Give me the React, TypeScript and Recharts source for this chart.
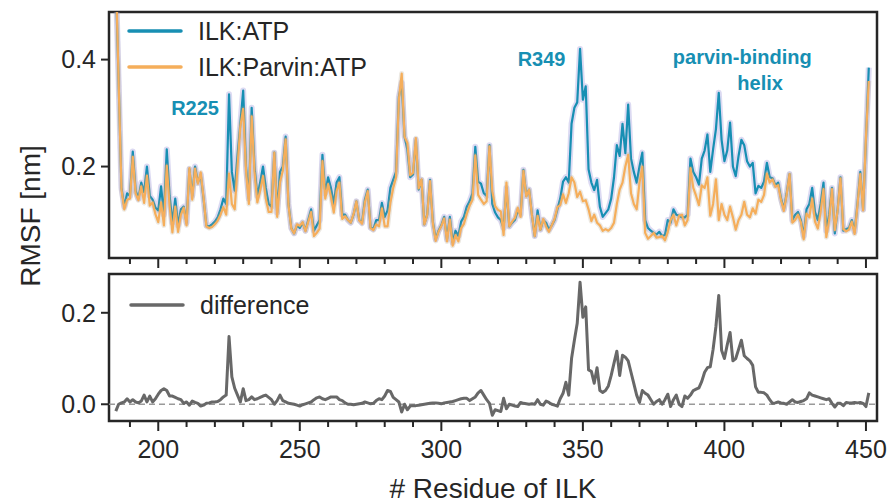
import {
  Legend,
  Line,
  LineChart,
  ReferenceArea,
  ReferenceDot,
  ReferenceLine,
  XAxis,
  YAxis,
} from "recharts";

// residues 185..451, one value per residue
const firstResidue = 185;

const atpRmsf = [
  0.55, 0.36, 0.16, 0.125, 0.15, 0.145, 0.228, 0.155, 0.14, 0.17,
  0.152, 0.2, 0.145, 0.138, 0.123, 0.118, 0.163, 0.11, 0.232, 0.145,
  0.095, 0.14, 0.09, 0.12, 0.125, 0.095, 0.195, 0.145, 0.2, 0.17,
  0.185, 0.14, 0.09, 0.088, 0.092, 0.097, 0.105, 0.12, 0.14, 0.13,
  0.335, 0.19, 0.155, 0.22, 0.28, 0.342, 0.2, 0.14, 0.31, 0.2,
  0.145, 0.17, 0.2, 0.16, 0.13, 0.125, 0.226, 0.114, 0.19, 0.2,
  0.256, 0.13, 0.085, 0.075, 0.09, 0.085, 0.095, 0.08, 0.1, 0.12,
  0.08, 0.09, 0.1, 0.222, 0.15, 0.18, 0.16, 0.13, 0.17, 0.18,
  0.11, 0.11, 0.1, 0.095, 0.11, 0.135, 0.1, 0.095, 0.138, 0.157,
  0.086, 0.083, 0.1, 0.1, 0.132, 0.106, 0.118, 0.16, 0.175, 0.19,
  0.33, 0.357, 0.256, 0.232, 0.18, 0.185, 0.25, 0.157, 0.175, 0.092,
  0.11, 0.175, 0.097, 0.064, 0.08, 0.09, 0.106, 0.064, 0.106, 0.058,
  0.08, 0.07, 0.097, 0.106, 0.125, 0.135, 0.15, 0.237, 0.172, 0.168,
  0.15, 0.145, 0.24, 0.13, 0.114, 0.105, 0.1, 0.085, 0.16, 0.088,
  0.095, 0.1, 0.118, 0.11, 0.194, 0.145, 0.157, 0.11, 0.07, 0.118,
  0.082, 0.1, 0.095, 0.082, 0.09, 0.1, 0.12, 0.14, 0.172, 0.18,
  0.17, 0.28, 0.31, 0.32, 0.42, 0.325, 0.35, 0.195, 0.17, 0.156,
  0.175, 0.125, 0.106, 0.113, 0.12, 0.14, 0.18, 0.24, 0.22, 0.28,
  0.225, 0.316, 0.215, 0.19, 0.17, 0.2, 0.226, 0.1, 0.085, 0.08,
  0.076, 0.073, 0.078, 0.07, 0.072, 0.1, 0.095, 0.12, 0.11, 0.108,
  0.105, 0.105, 0.11, 0.215, 0.19, 0.18, 0.166, 0.215, 0.23, 0.26,
  0.19, 0.232, 0.27, 0.338, 0.25, 0.21, 0.23, 0.282, 0.2, 0.182,
  0.22, 0.25, 0.24, 0.21, 0.2, 0.207, 0.15, 0.164, 0.16, 0.172,
  0.207, 0.18, 0.178, 0.165, 0.17, 0.14, 0.12, 0.15, 0.186, 0.1,
  0.11, 0.115, 0.1, 0.07, 0.12, 0.13, 0.16, 0.115, 0.1, 0.13,
  0.17, 0.08, 0.11, 0.16, 0.075, 0.12, 0.18, 0.08, 0.083, 0.085,
  0.1, 0.078, 0.13, 0.19, 0.12, 0.25, 0.385,
];

const parvinRmsf = [
  0.565, 0.36, 0.157, 0.12, 0.138, 0.14, 0.218, 0.15, 0.137, 0.163,
  0.132, 0.183, 0.127, 0.133, 0.111, 0.096, 0.133, 0.09, 0.202, 0.127,
  0.077, 0.125, 0.078, 0.11, 0.123, 0.09, 0.197, 0.138, 0.196, 0.168,
  0.189, 0.142, 0.088, 0.085, 0.087, 0.092, 0.099, 0.11, 0.124, 0.11,
  0.187, 0.13, 0.12, 0.2, 0.275, 0.308, 0.192, 0.13, 0.294, 0.19,
  0.133, 0.155, 0.182, 0.14, 0.115, 0.115, 0.226, 0.106, 0.17, 0.192,
  0.251, 0.128, 0.084, 0.075, 0.092, 0.089, 0.096, 0.079, 0.097, 0.115,
  0.07, 0.076, 0.084, 0.21, 0.14, 0.167, 0.144, 0.114, 0.154, 0.17,
  0.102, 0.107, 0.1, 0.095, 0.111, 0.135, 0.099, 0.093, 0.133, 0.154,
  0.085, 0.081, 0.092, 0.088, 0.122, 0.088, 0.088, 0.132, 0.16, 0.18,
  0.325, 0.374, 0.256, 0.244, 0.184, 0.188, 0.253, 0.159, 0.176, 0.092,
  0.109, 0.173, 0.094, 0.061, 0.078, 0.089, 0.103, 0.06, 0.101, 0.052,
  0.072, 0.06, 0.085, 0.093, 0.112, 0.127, 0.138, 0.221, 0.147, 0.138,
  0.13, 0.135, 0.238, 0.154, 0.126, 0.119, 0.116, 0.072, 0.17, 0.088,
  0.097, 0.104, 0.123, 0.106, 0.192, 0.144, 0.157, 0.109, 0.07, 0.108,
  0.082, 0.102, 0.088, 0.078, 0.09, 0.102, 0.124, 0.128, 0.148, 0.132,
  0.15, 0.18, 0.17, 0.143, 0.153, 0.135, 0.137, 0.12, 0.098, 0.11,
  0.095, 0.09, 0.08, 0.083, 0.08, 0.085, 0.095, 0.13, 0.157, 0.17,
  0.2, 0.222, 0.15, 0.13, 0.12, 0.17, 0.2, 0.076, 0.065, 0.07,
  0.076, 0.067, 0.068, 0.07, 0.062, 0.078, 0.1, 0.11, 0.09, 0.108,
  0.11, 0.09, 0.1, 0.197, 0.16, 0.145, 0.128, 0.165, 0.16, 0.18,
  0.108, 0.13, 0.176, 0.1, 0.13, 0.11, 0.1, 0.125, 0.105, 0.082,
  0.1, 0.11, 0.134, 0.11, 0.105, 0.122, 0.112, 0.138, 0.134, 0.147,
  0.187, 0.17, 0.176, 0.162, 0.165, 0.137, 0.117, 0.148, 0.186, 0.095,
  0.1, 0.11, 0.096, 0.064, 0.112, 0.105, 0.14, 0.097, 0.084, 0.116,
  0.158, 0.068, 0.1, 0.158, 0.081, 0.118, 0.178, 0.083, 0.079, 0.082,
  0.097, 0.074, 0.127, 0.186, 0.118, 0.255, 0.36,
];

const rmsfDifference = [
  -0.015, 0.0, 0.003, 0.005, 0.012, 0.005, 0.01, 0.005, 0.003, 0.007,
  0.02, 0.005, 0.018, 0.005, 0.012, 0.022, 0.03, 0.034, 0.03, 0.018,
  0.018, 0.015, 0.012, 0.01, 0.002, 0.005, -0.002, 0.007, 0.004, 0.002,
  -0.004, -0.002, 0.002, 0.003, 0.005, 0.005, 0.006, 0.01, 0.016, 0.02,
  0.148, 0.06, 0.035, 0.02, 0.005, 0.034, 0.008, 0.01, 0.016, 0.01,
  0.012, 0.015, 0.018, 0.02, 0.015, 0.01, 0.0, 0.008, 0.02, 0.008,
  0.005, 0.002, 0.001, 0.0, -0.002, -0.004, -0.001, 0.001, 0.003, 0.005,
  0.01, 0.014, 0.016, 0.012, 0.01, 0.013, 0.016, 0.016, 0.016, 0.01,
  0.008, 0.003, 0.0, 0.0, -0.001, 0.0, 0.001, 0.002, 0.005, 0.003,
  0.001, 0.002, 0.008, 0.012, 0.01, 0.018, 0.03, 0.028, 0.015, 0.01,
  0.005, -0.017, 0.0, -0.012, -0.004, -0.003, -0.003, -0.002, -0.001, 0.0,
  0.001, 0.002, 0.003, 0.003, 0.002, 0.001, 0.003, 0.004, 0.005, 0.006,
  0.008, 0.01, 0.012, 0.013, 0.013, 0.008, 0.012, 0.016, 0.025, 0.03,
  0.02, 0.01, 0.002, -0.024, -0.012, -0.014, -0.016, 0.013, -0.01, 0.0,
  -0.002, -0.004, -0.005, 0.004, 0.002, 0.001, 0.0, 0.001, 0.0, 0.01,
  0.0, -0.002, 0.007, 0.004, 0.0, -0.002, -0.004, 0.012, 0.024, 0.048,
  0.02, 0.1, 0.14, 0.177, 0.267, 0.19, 0.213, 0.075, 0.072, 0.046,
  0.08, 0.03, 0.026, 0.03, 0.04, 0.063, 0.09, 0.116, 0.063, 0.107,
  0.103, 0.095, 0.07, 0.045, 0.02, 0.004, 0.03, 0.024, 0.02, 0.01,
  0.0, 0.006, 0.01, 0.0, 0.01, 0.022, -0.005, 0.01, 0.02, 0.0,
  -0.005, 0.018, 0.013, 0.02, 0.03, 0.033, 0.036, 0.05, 0.07, 0.08,
  0.082, 0.12, 0.17, 0.238, 0.118, 0.1, 0.13, 0.157, 0.095, 0.1,
  0.12, 0.14, 0.106, 0.1, 0.095, 0.085, 0.038, 0.026, 0.026, 0.025,
  0.02, 0.01, 0.002, 0.003, 0.005, 0.003, 0.002, 0.0, 0.005, 0.01,
  0.005, 0.004, 0.006, 0.008, 0.012, 0.025, 0.02, 0.018, 0.016, 0.014,
  0.012, 0.01, 0.012, 0.002, -0.006, 0.002, 0.002, -0.003, 0.004, 0.003,
  0.003, 0.004, 0.003, 0.004, 0.002, -0.005, 0.025,
];

const residueTicks = [
  190, 200, 210, 220, 230, 240, 250, 260, 270, 280, 290, 300, 310, 320,
  330, 340, 350, 360, 370, 380, 390, 400, 410, 420, 430, 440, 450,
];
const rmsfTicks = [0.2, 0.4];
const diffTicks = [0.0, 0.2];

const annotations = [
  { text: "R225", residue: 213, value: 0.31 },
  { text: "R349", residue: 335.4, value: 0.402 },
  { text: "parvin-binding", residue: 406.3, value: 0.405 },
  { text: "helix", residue: 412.6, value: 0.357 },
];

const INK = "#262626";
const ATP_BLUE = "#178fb3";
const PARVIN_ORANGE = "#f5ae5b";
const DIFF_GREY = "#686868";
const FONT = "'Liberation Sans', Arial, sans-serif";

const X_DOMAIN: [number, number] = [182.6, 453.9];
const RMSF_DOMAIN: [number, number] = [0.029, 0.489];
const DIFF_DOMAIN: [number, number] = [-0.0366, 0.2848];

const rows = atpRmsf.map((atp, i) => ({
  residue: firstResidue + i,
  atp,
  parvin: parvinRmsf[i],
  diff: rmsfDifference[i],
}));

function ResidueTick(props: any) {
  const { x, y, payload, showLabel } = props;
  const major = payload.value % 50 === 0;
  return (
    <g>
      <line x1={x} x2={x} y1={y} y2={y + (major ? 10 : 6)} stroke={INK} strokeWidth={2} />
      {showLabel && major && (
        <text x={x} y={y + 37} textAnchor="middle" fontSize={25} fill={INK} fontFamily={FONT}>
          {payload.value}
        </text>
      )}
    </g>
  );
}

function KeyBox({ items }: { items: { label: string; color: string }[] }) {
  return (
    <div style={{ fontFamily: FONT }}>
      {items.map((it) => (
        <div key={it.label} style={{ display: "flex", alignItems: "center", height: 36 }}>
          <svg width={56} height={8}>
            <line x1={2} x2={54} y1={4} y2={4} stroke={it.color} strokeWidth={3.5} strokeLinecap="round" />
          </svg>
          <span style={{ marginLeft: 15, fontSize: 25, color: INK, lineHeight: "36px" }}>{it.label}</span>
        </div>
      ))}
    </div>
  );
}

const yTickStyle = { fontSize: 25, fill: INK, fontFamily: FONT };

export default function App() {
  return (
    <div
      style={{
        position: "absolute",
        left: 0,
        top: 0,
        width: 893,
        height: 504,
        background: "#fff",
        fontFamily: FONT,
      }}
    >
      <div style={{ position: "absolute", left: 0, top: 0 }}>
        <LineChart width={893} height={270} data={rows} margin={{ top: 12, right: 16, left: 0, bottom: 0 }}>
          <XAxis
            dataKey="residue"
            type="number"
            domain={X_DOMAIN}
            allowDataOverflow
            ticks={residueTicks}
            interval={0}
            height={12}
            tickSize={0}
            tickMargin={0}
            tickLine={false}
            axisLine={false}
            tick={<ResidueTick showLabel={false} />}
          />
          <YAxis
            type="number"
            domain={RMSF_DOMAIN}
            allowDataOverflow
            ticks={rmsfTicks}
            interval={0}
            width={109}
            tickSize={8}
            tickMargin={5}
            axisLine={false}
            tickLine={{ stroke: INK, strokeWidth: 2 }}
            tick={yTickStyle}
            tickFormatter={(v: number) => v.toFixed(1)}
          />
          {/* spread bands, drawn as wide faint strokes under each line */}
          <Line dataKey="atp" stroke="#8b83d4" strokeOpacity={0.3} strokeWidth={6} strokeLinejoin="round" dot={false} activeDot={false} isAnimationActive={false} legendType="none" />
          <Line dataKey="atp" stroke={ATP_BLUE} strokeWidth={2.2} strokeLinejoin="round" dot={false} activeDot={false} isAnimationActive={false} />
          <Line dataKey="parvin" stroke="#b3a386" strokeOpacity={0.25} strokeWidth={5} strokeLinejoin="round" dot={false} activeDot={false} isAnimationActive={false} legendType="none" />
          <Line dataKey="parvin" stroke={PARVIN_ORANGE} strokeWidth={2.2} strokeLinejoin="round" dot={false} activeDot={false} isAnimationActive={false} />
          {annotations.map((a) => (
            <ReferenceDot
              key={a.text}
              x={a.residue}
              y={a.value}
              r={0}
              fill="none"
              stroke="none"
              label={{
                value: a.text,
                position: "center",
                fill: ATP_BLUE,
                fontSize: 20,
                fontWeight: 700,
                fontFamily: FONT,
              }}
            />
          ))}
          <ReferenceArea
            x1={X_DOMAIN[0]}
            x2={X_DOMAIN[1]}
            y1={RMSF_DOMAIN[0]}
            y2={RMSF_DOMAIN[1]}
            fill="none"
            stroke={INK}
            strokeWidth={2.5}
            ifOverflow="visible"
          />
          <Legend
            layout="vertical"
            align="center"
            verticalAlign="middle"
            wrapperStyle={{ left: 127, top: 13, width: "auto" }}
            content={() => (
              <KeyBox
                items={[
                  { label: "ILK:ATP", color: ATP_BLUE },
                  { label: "ILK:Parvin:ATP", color: PARVIN_ORANGE },
                ]}
              />
            )}
          />
        </LineChart>
      </div>

      <div style={{ position: "absolute", left: 0, top: 262 }}>
        <LineChart width={893} height={242} data={rows} margin={{ top: 12, right: 16, left: 0, bottom: 0 }}>
          <XAxis
            dataKey="residue"
            type="number"
            domain={X_DOMAIN}
            allowDataOverflow
            ticks={residueTicks}
            interval={0}
            height={83}
            tickSize={0}
            tickMargin={0}
            tickLine={false}
            axisLine={false}
            tick={<ResidueTick showLabel />}
            label={{
              value: "# Residue of ILK",
              position: "insideBottom",
              offset: 6,
              fontSize: 28,
              fill: INK,
              fontFamily: FONT,
            }}
          />
          <YAxis
            type="number"
            domain={DIFF_DOMAIN}
            allowDataOverflow
            ticks={diffTicks}
            interval={0}
            width={109}
            tickSize={8}
            tickMargin={5}
            axisLine={false}
            tickLine={{ stroke: INK, strokeWidth: 2 }}
            tick={yTickStyle}
            tickFormatter={(v: number) => v.toFixed(1)}
          />
          <ReferenceLine y={0} stroke="#9a9a9a" strokeWidth={1.3} strokeDasharray="6 4" />
          <Line dataKey="diff" stroke={DIFF_GREY} strokeWidth={3} strokeLinejoin="round" dot={false} activeDot={false} isAnimationActive={false} />
          <ReferenceArea
            x1={X_DOMAIN[0]}
            x2={X_DOMAIN[1]}
            y1={DIFF_DOMAIN[0]}
            y2={DIFF_DOMAIN[1]}
            fill="none"
            stroke={INK}
            strokeWidth={2.5}
            ifOverflow="visible"
          />
          <Legend
            layout="vertical"
            align="center"
            verticalAlign="middle"
            wrapperStyle={{ left: 129, top: 25, width: "auto" }}
            content={() => <KeyBox items={[{ label: "difference", color: DIFF_GREY }]} />}
          />
        </LineChart>
      </div>

      <svg
        width={893}
        height={504}
        style={{ position: "absolute", left: 0, top: 0, pointerEvents: "none" }}
      >
        <text
          transform="translate(30,216) rotate(-90)"
          textAnchor="middle"
          dominantBaseline="central"
          fontSize={28}
          fill={INK}
          fontFamily={FONT}
        >
          RMSF [nm]
        </text>
      </svg>
    </div>
  );
}
